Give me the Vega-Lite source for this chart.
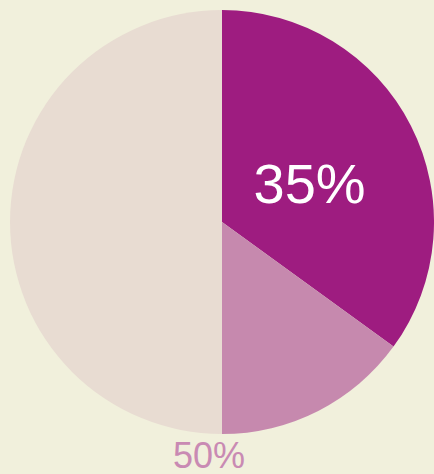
{
  "$schema": "https://vega.github.io/schema/vega-lite/v6.json",
  "autosize": "none",
  "width": 424,
  "height": 424,
  "padding": {"left": 10, "top": 10, "right": 0, "bottom": 40},
  "background": "#f1f0dc",
  "config": {"view": {"stroke": null}, "font": "Liberation Sans"},
  "data": {
    "values": [
      {"segment": "Segment 1", "value": 35, "label": "35%"},
      {"segment": "Segment 2", "value": 15, "label": "15%"},
      {"segment": "Segment 3", "value": 50, "label": "50%"}
    ]
  },
  "layer": [
    {
      "mark": {"type": "arc"},
      "encoding": {
        "theta": {"field": "value", "type": "quantitative", "stack": true},
        "color": {
          "field": "segment",
          "type": "nominal",
          "scale": {"domain": ["Segment 1", "Segment 2", "Segment 3"], "range": ["#9e1c80", "#c689ae", "#e8dcd2"]},
          "legend": null
        },
        "order": {"field": "segment", "sort": "ascending"}
      }
    },
    {
      "mark": {"type": "text", "radius": 96, "fontSize": 56, "color": "white", "align": "center", "baseline": "middle", "dx": 2, "dy": 8},
      "encoding": {
        "theta": {"field": "value", "type": "quantitative", "stack": true},
        "order": {"field": "segment", "sort": "ascending"},
        "text": {"condition": {"test": "datum.segment === 'Segment 1'", "field": "label"}, "value": ""}
      }
    },
    {
      "transform": [
        {"stack": "value", "groupby": [], "sort": [{"field": "segment", "order": "ascending"}], "as": ["s0", "s1"]},
        {"filter": "datum.segment === 'Segment 3'"}
      ],
      "mark": {"type": "text", "radius": 235, "fontSize": 36, "color": "#c98ab3", "align": "center", "baseline": "middle", "dx": -13},
      "encoding": {
        "theta": {"field": "s0", "type": "quantitative", "stack": null},
        "text": {"field": "label"}
      }
    }
  ]
}
